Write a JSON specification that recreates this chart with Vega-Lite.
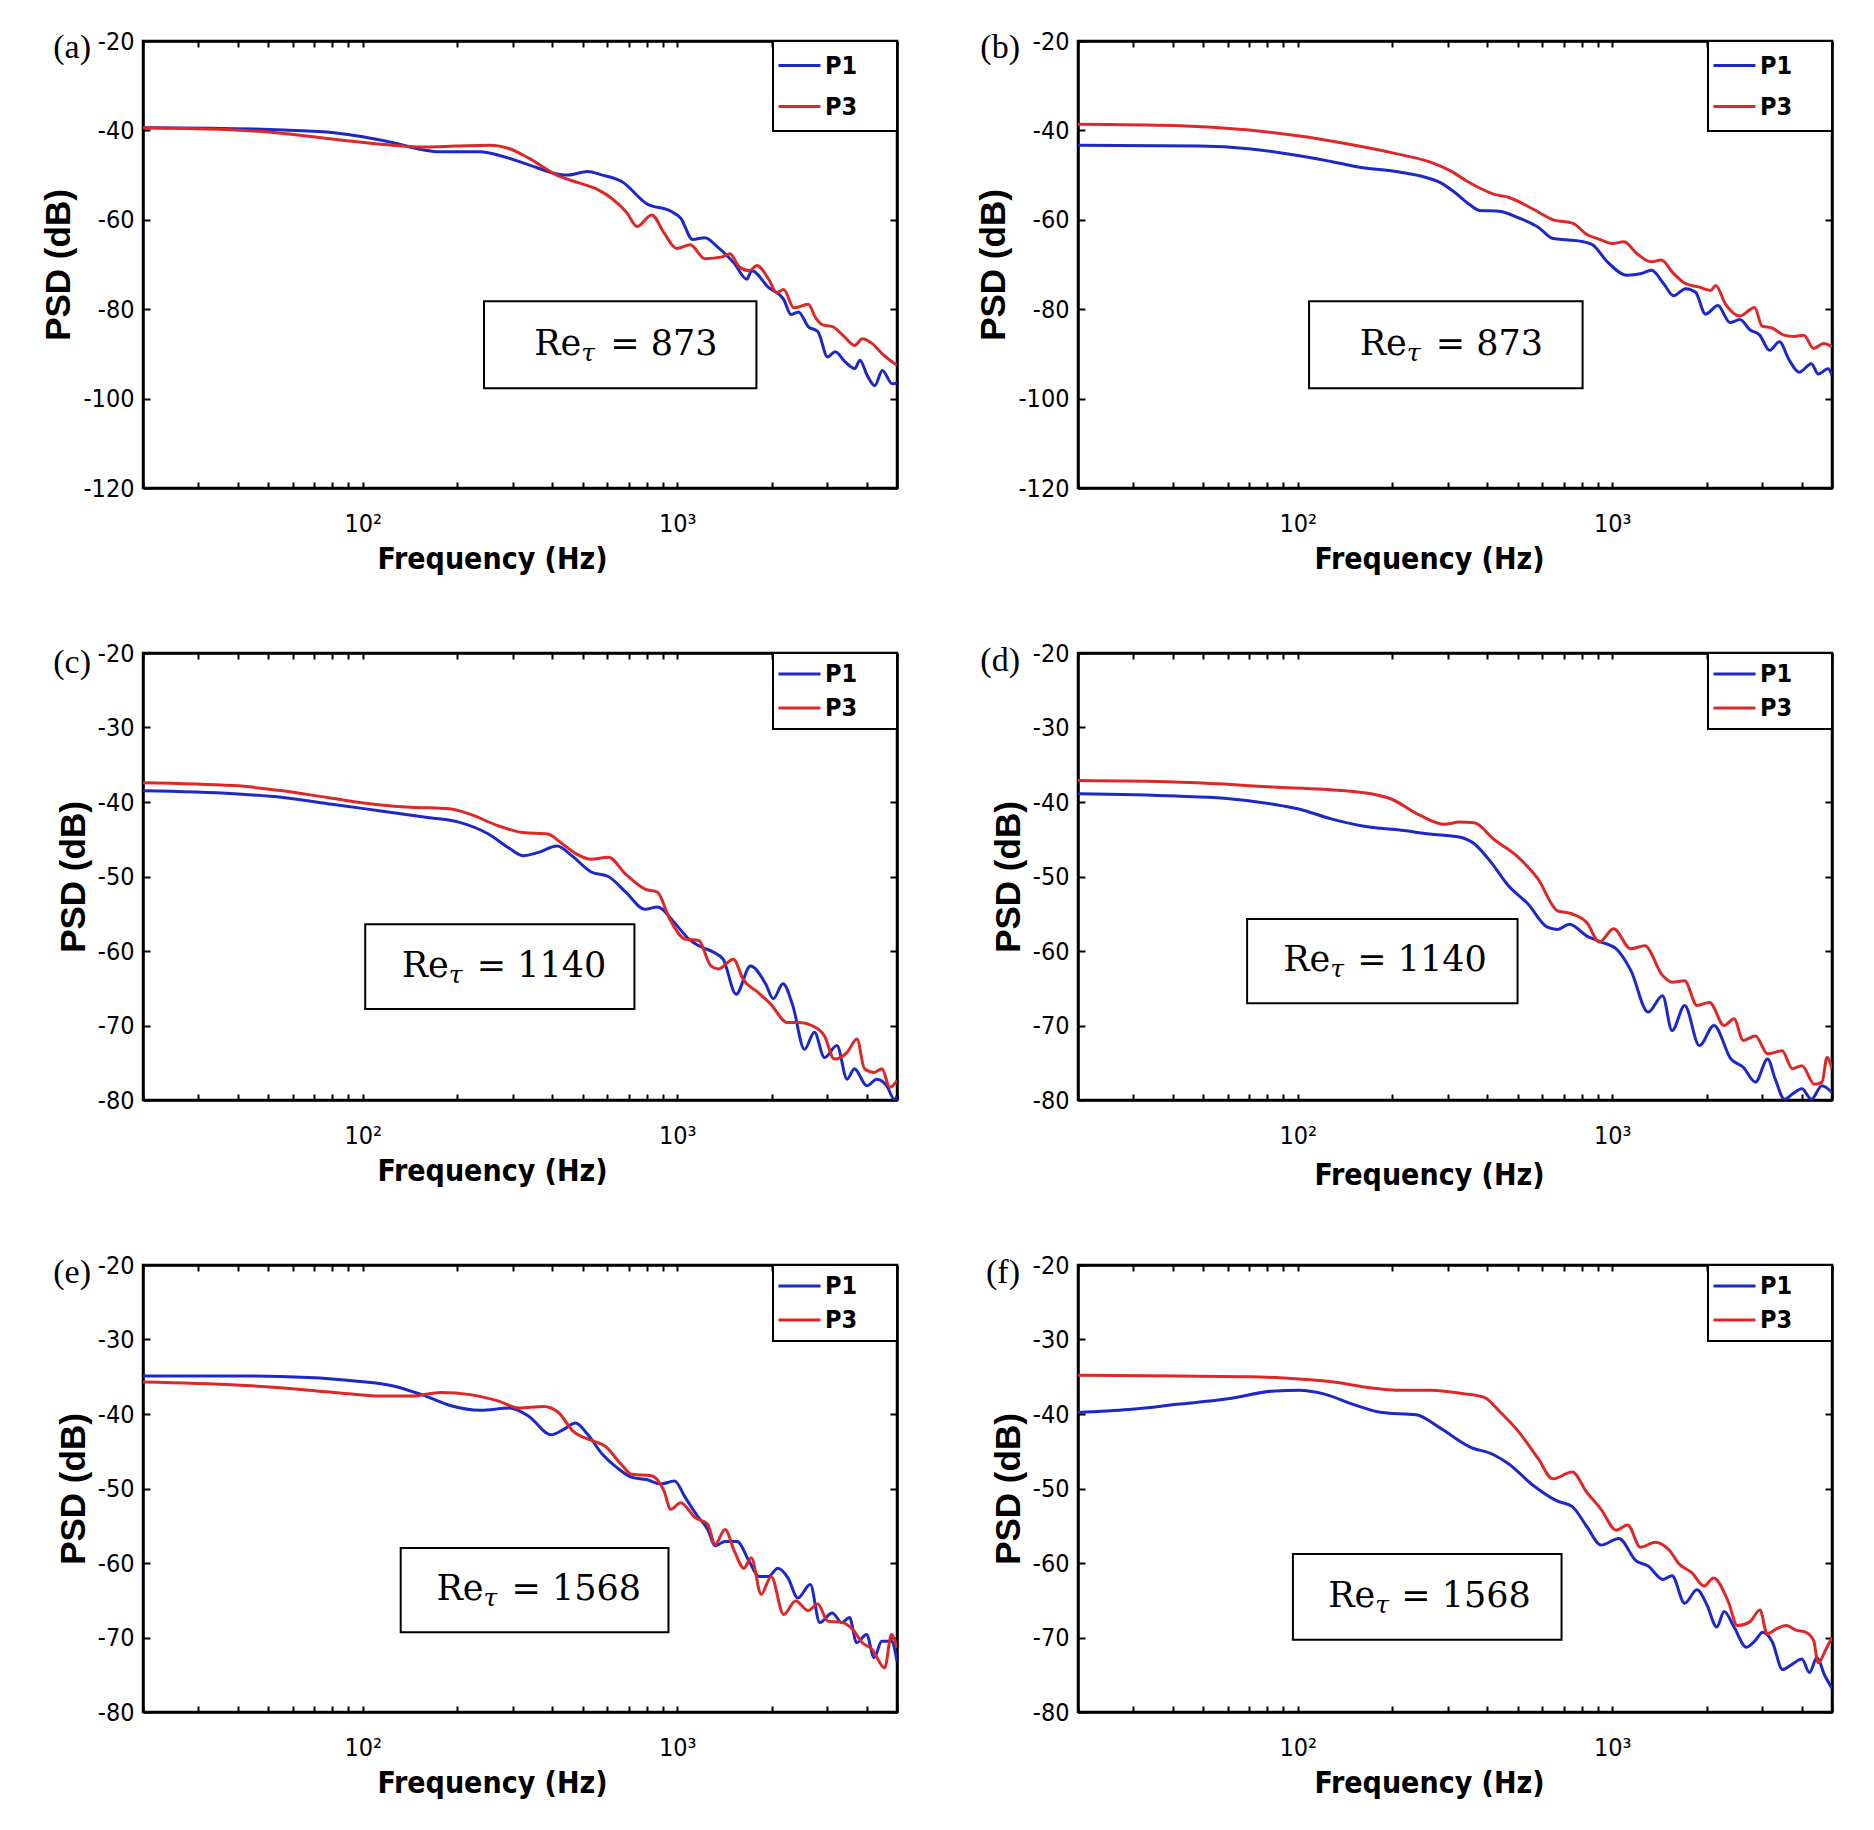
{
  "$schema": "https://vega.github.io/schema/vega-lite/v6.json",
  "padding": {"left": 40, "top": 27, "right": 10, "bottom": 5},
  "background": "white",
  "datasets": {
    "a": [
      {"f": 20, "psd": -39.4, "probe": "P1"}, {"f": 33, "psd": -39.5, "probe": "P1"}, {"f": 56, "psd": -39.9, "probe": "P1"}, {"f": 81, "psd": -40.5, "probe": "P1"},
      {"f": 100, "psd": -41.4, "probe": "P1"}, {"f": 124, "psd": -42.7, "probe": "P1"}, {"f": 154, "psd": -44.3, "probe": "P1"}, {"f": 177, "psd": -44.8, "probe": "P1"},
      {"f": 236, "psd": -44.8, "probe": "P1"}, {"f": 272, "psd": -45.6, "probe": "P1"}, {"f": 337, "psd": -47.7, "probe": "P1"}, {"f": 419, "psd": -49.8, "probe": "P1"},
      {"f": 450, "psd": -50, "probe": "P1"}, {"f": 518, "psd": -49.2, "probe": "P1"}, {"f": 578, "psd": -50, "probe": "P1"}, {"f": 668, "psd": -51.5, "probe": "P1"},
      {"f": 799, "psd": -56.4, "probe": "P1"}, {"f": 955, "psd": -58.1, "probe": "P1"}, {"f": 1025, "psd": -59.6, "probe": "P1"}, {"f": 1120, "psd": -64.4, "probe": "P1"},
      {"f": 1225, "psd": -64, "probe": "P1"}, {"f": 1340, "psd": -66, "probe": "P1"}, {"f": 1520, "psd": -69.8, "probe": "P1"}, {"f": 1665, "psd": -73.3, "probe": "P1"},
      {"f": 1725, "psd": -71.4, "probe": "P1"}, {"f": 1955, "psd": -75.2, "probe": "P1"}, {"f": 2180, "psd": -77.8, "probe": "P1"}, {"f": 2300, "psd": -81.2, "probe": "P1"},
      {"f": 2430, "psd": -80.6, "probe": "P1"}, {"f": 2610, "psd": -83.9, "probe": "P1"}, {"f": 2800, "psd": -85, "probe": "P1"}, {"f": 3010, "psd": -90.7, "probe": "P1"},
      {"f": 3180, "psd": -89.5, "probe": "P1"}, {"f": 3420, "psd": -91.8, "probe": "P1"}, {"f": 3670, "psd": -93.3, "probe": "P1"}, {"f": 3810, "psd": -91.4, "probe": "P1"},
      {"f": 4020, "psd": -94.8, "probe": "P1"}, {"f": 4250, "psd": -97.1, "probe": "P1"}, {"f": 4490, "psd": -93.7, "probe": "P1"}, {"f": 4830, "psd": -96.7, "probe": "P1"},
      {"f": 5000, "psd": -96.5, "probe": "P1"},
      {"f": 20, "psd": -39.4, "probe": "P3"}, {"f": 39, "psd": -39.9, "probe": "P3"}, {"f": 56, "psd": -40.7, "probe": "P3"}, {"f": 81, "psd": -42, "probe": "P3"},
      {"f": 124, "psd": -43.3, "probe": "P3"}, {"f": 154, "psd": -43.7, "probe": "P3"}, {"f": 197, "psd": -43.5, "probe": "P3"}, {"f": 254, "psd": -43.3, "probe": "P3"},
      {"f": 293, "psd": -44.1, "probe": "P3"}, {"f": 337, "psd": -46.2, "probe": "P3"}, {"f": 419, "psd": -50.2, "probe": "P3"}, {"f": 484, "psd": -51.7, "probe": "P3"},
      {"f": 557, "psd": -53.2, "probe": "P3"}, {"f": 621, "psd": -55.3, "probe": "P3"}, {"f": 693, "psd": -58.5, "probe": "P3"}, {"f": 745, "psd": -61.5, "probe": "P3"},
      {"f": 830, "psd": -58.9, "probe": "P3"}, {"f": 909, "psd": -63, "probe": "P3"}, {"f": 995, "psd": -66.4, "probe": "P3"}, {"f": 1100, "psd": -65.6, "probe": "P3"},
      {"f": 1225, "psd": -68.7, "probe": "P3"}, {"f": 1390, "psd": -68.3, "probe": "P3"}, {"f": 1470, "psd": -67.6, "probe": "P3"}, {"f": 1580, "psd": -70.6, "probe": "P3"},
      {"f": 1700, "psd": -71.4, "probe": "P3"}, {"f": 1790, "psd": -70.2, "probe": "P3"}, {"f": 1955, "psd": -73.3, "probe": "P3"}, {"f": 2070, "psd": -76.3, "probe": "P3"},
      {"f": 2180, "psd": -75.6, "probe": "P3"}, {"f": 2350, "psd": -79.7, "probe": "P3"}, {"f": 2610, "psd": -78.9, "probe": "P3"}, {"f": 2760, "psd": -82, "probe": "P3"},
      {"f": 2900, "psd": -83.5, "probe": "P3"}, {"f": 3120, "psd": -83.9, "probe": "P3"}, {"f": 3360, "psd": -85.8, "probe": "P3"}, {"f": 3670, "psd": -88.1, "probe": "P3"},
      {"f": 3880, "psd": -86.6, "probe": "P3"}, {"f": 4170, "psd": -87.7, "probe": "P3"}, {"f": 4490, "psd": -90, "probe": "P3"}, {"f": 4830, "psd": -91.8, "probe": "P3"},
      {"f": 5000, "psd": -92.5, "probe": "P3"}
    ],
    "b": [
      {"f": 20, "psd": -43.3, "probe": "P1"}, {"f": 48.7, "psd": -43.5, "probe": "P1"}, {"f": 69.8, "psd": -44.1, "probe": "P1"}, {"f": 100, "psd": -45.6, "probe": "P1"},
      {"f": 128.6, "psd": -47, "probe": "P1"}, {"f": 159.6, "psd": -48.3, "probe": "P1"}, {"f": 205, "psd": -49.2, "probe": "P1"}, {"f": 245.6, "psd": -50.2, "probe": "P1"},
      {"f": 284, "psd": -51.7, "probe": "P1"}, {"f": 316, "psd": -53.9, "probe": "P1"}, {"f": 352, "psd": -56.6, "probe": "P1"}, {"f": 378, "psd": -57.9, "probe": "P1"},
      {"f": 437, "psd": -58.1, "probe": "P1"}, {"f": 505, "psd": -59.6, "probe": "P1"}, {"f": 583, "psd": -61.7, "probe": "P1"}, {"f": 649, "psd": -64.2, "probe": "P1"},
      {"f": 724, "psd": -64.5, "probe": "P1"}, {"f": 808, "psd": -64.9, "probe": "P1"}, {"f": 866, "psd": -65.6, "probe": "P1"}, {"f": 965, "psd": -69.4, "probe": "P1"},
      {"f": 1111, "psd": -72.4, "probe": "P1"}, {"f": 1241, "psd": -72, "probe": "P1"}, {"f": 1333, "psd": -71.3, "probe": "P1"}, {"f": 1458, "psd": -74.3, "probe": "P1"},
      {"f": 1566, "psd": -77, "probe": "P1"}, {"f": 1713, "psd": -75.4, "probe": "P1"}, {"f": 1841, "psd": -76.2, "probe": "P1"}, {"f": 1980, "psd": -81.1, "probe": "P1"},
      {"f": 2167, "psd": -79.2, "probe": "P1"}, {"f": 2371, "psd": -83, "probe": "P1"}, {"f": 2549, "psd": -82.3, "probe": "P1"}, {"f": 2740, "psd": -84.6, "probe": "P1"},
      {"f": 2945, "psd": -85.8, "probe": "P1"}, {"f": 3165, "psd": -89.2, "probe": "P1"}, {"f": 3402, "psd": -87.3, "probe": "P1"}, {"f": 3657, "psd": -91.4, "probe": "P1"},
      {"f": 3931, "psd": -94.1, "probe": "P1"}, {"f": 4300, "psd": -92.2, "probe": "P1"}, {"f": 4520, "psd": -94.5, "probe": "P1"}, {"f": 4860, "psd": -93.3, "probe": "P1"},
      {"f": 5000, "psd": -94.8, "probe": "P1"},
      {"f": 20, "psd": -38.6, "probe": "P3"}, {"f": 40.7, "psd": -38.9, "probe": "P3"}, {"f": 69.8, "psd": -39.9, "probe": "P3"}, {"f": 100, "psd": -41.2, "probe": "P3"},
      {"f": 143, "psd": -43, "probe": "P3"}, {"f": 205, "psd": -45.2, "probe": "P3"}, {"f": 264, "psd": -47.1, "probe": "P3"}, {"f": 305, "psd": -49, "probe": "P3"},
      {"f": 352, "psd": -51.7, "probe": "P3"}, {"f": 422, "psd": -54.3, "probe": "P3"}, {"f": 470, "psd": -55, "probe": "P3"}, {"f": 563, "psd": -57.7, "probe": "P3"},
      {"f": 649, "psd": -60, "probe": "P3"}, {"f": 750, "psd": -60.8, "probe": "P3"}, {"f": 836, "psd": -63.4, "probe": "P3"}, {"f": 898, "psd": -64.2, "probe": "P3"},
      {"f": 1000, "psd": -65.3, "probe": "P3"}, {"f": 1090, "psd": -64.9, "probe": "P3"}, {"f": 1200, "psd": -67.6, "probe": "P3"}, {"f": 1333, "psd": -69.4, "probe": "P3"},
      {"f": 1432, "psd": -69, "probe": "P3"}, {"f": 1566, "psd": -72, "probe": "P3"}, {"f": 1713, "psd": -74.3, "probe": "P3"}, {"f": 1882, "psd": -75, "probe": "P3"},
      {"f": 2058, "psd": -75.8, "probe": "P3"}, {"f": 2135, "psd": -74.7, "probe": "P3"}, {"f": 2290, "psd": -78.8, "probe": "P3"}, {"f": 2549, "psd": -81.5, "probe": "P3"},
      {"f": 2837, "psd": -79.6, "probe": "P3"}, {"f": 2997, "psd": -83.8, "probe": "P3"}, {"f": 3222, "psd": -84.2, "probe": "P3"}, {"f": 3520, "psd": -85.8, "probe": "P3"},
      {"f": 3785, "psd": -86.1, "probe": "P3"}, {"f": 4070, "psd": -85.8, "probe": "P3"}, {"f": 4370, "psd": -88.8, "probe": "P3"}, {"f": 4700, "psd": -87.7, "probe": "P3"},
      {"f": 5000, "psd": -88.4, "probe": "P3"}
    ],
    "c": [
      {"f": 20, "psd": -38.5, "probe": "P1"}, {"f": 38.9, "psd": -38.9, "probe": "P1"}, {"f": 55.7, "psd": -39.4, "probe": "P1"}, {"f": 79.8, "psd": -40.3, "probe": "P1"},
      {"f": 114, "psd": -41.2, "probe": "P1"}, {"f": 163, "psd": -42.1, "probe": "P1"}, {"f": 202, "psd": -42.7, "probe": "P1"}, {"f": 251, "psd": -44.3, "probe": "P1"},
      {"f": 290, "psd": -46.1, "probe": "P1"}, {"f": 323, "psd": -47.2, "probe": "P1"}, {"f": 360, "psd": -46.8, "probe": "P1"}, {"f": 415, "psd": -45.9, "probe": "P1"},
      {"f": 462, "psd": -47.2, "probe": "P1"}, {"f": 533, "psd": -49.4, "probe": "P1"}, {"f": 604, "psd": -50, "probe": "P1"}, {"f": 686, "psd": -52.1, "probe": "P1"},
      {"f": 790, "psd": -54.4, "probe": "P1"}, {"f": 865, "psd": -54.1, "probe": "P1"}, {"f": 980, "psd": -56.2, "probe": "P1"}, {"f": 1090, "psd": -58.4, "probe": "P1"},
      {"f": 1170, "psd": -59.3, "probe": "P1"}, {"f": 1310, "psd": -60.2, "probe": "P1"}, {"f": 1400, "psd": -61.1, "probe": "P1"}, {"f": 1540, "psd": -65.8, "probe": "P1"},
      {"f": 1710, "psd": -62, "probe": "P1"}, {"f": 1910, "psd": -64.4, "probe": "P1"}, {"f": 2020, "psd": -66.4, "probe": "P1"}, {"f": 2170, "psd": -64.4, "probe": "P1"},
      {"f": 2330, "psd": -67.3, "probe": "P1"}, {"f": 2540, "psd": -73.2, "probe": "P1"}, {"f": 2730, "psd": -70.9, "probe": "P1"}, {"f": 2940, "psd": -74.3, "probe": "P1"},
      {"f": 3220, "psd": -72.7, "probe": "P1"}, {"f": 3470, "psd": -77.2, "probe": "P1"}, {"f": 3660, "psd": -75.8, "probe": "P1"}, {"f": 4010, "psd": -78.1, "probe": "P1"},
      {"f": 4310, "psd": -77.2, "probe": "P1"}, {"f": 4640, "psd": -78.1, "probe": "P1"}, {"f": 4900, "psd": -79.9, "probe": "P1"}, {"f": 5000, "psd": -79.5, "probe": "P1"},
      {"f": 20, "psd": -37.4, "probe": "P3"}, {"f": 38.9, "psd": -37.8, "probe": "P3"}, {"f": 55.7, "psd": -38.5, "probe": "P3"}, {"f": 79.8, "psd": -39.5, "probe": "P3"},
      {"f": 114, "psd": -40.4, "probe": "P3"}, {"f": 142, "psd": -40.7, "probe": "P3"}, {"f": 189, "psd": -40.9, "probe": "P3"}, {"f": 218, "psd": -41.6, "probe": "P3"},
      {"f": 270, "psd": -43.2, "probe": "P3"}, {"f": 323, "psd": -44.1, "probe": "P3"}, {"f": 387, "psd": -44.3, "probe": "P3"}, {"f": 431, "psd": -45.6, "probe": "P3"},
      {"f": 479, "psd": -47, "probe": "P3"}, {"f": 533, "psd": -47.7, "probe": "P3"}, {"f": 604, "psd": -47.4, "probe": "P3"}, {"f": 686, "psd": -49.7, "probe": "P3"},
      {"f": 790, "psd": -51.7, "probe": "P3"}, {"f": 865, "psd": -52.1, "probe": "P3"}, {"f": 946, "psd": -55.7, "probe": "P3"}, {"f": 1060, "psd": -58.4, "probe": "P3"},
      {"f": 1170, "psd": -58.6, "probe": "P3"}, {"f": 1280, "psd": -62, "probe": "P3"}, {"f": 1350, "psd": -62.4, "probe": "P3"}, {"f": 1510, "psd": -61.1, "probe": "P3"},
      {"f": 1620, "psd": -63.8, "probe": "P3"}, {"f": 1800, "psd": -65.5, "probe": "P3"}, {"f": 1980, "psd": -67.1, "probe": "P3"}, {"f": 2240, "psd": -69.6, "probe": "P3"},
      {"f": 2450, "psd": -69.6, "probe": "P3"}, {"f": 2680, "psd": -70, "probe": "P3"}, {"f": 2940, "psd": -71.4, "probe": "P3"}, {"f": 3160, "psd": -74.5, "probe": "P3"},
      {"f": 3470, "psd": -73.6, "probe": "P3"}, {"f": 3730, "psd": -71.8, "probe": "P3"}, {"f": 3940, "psd": -75.8, "probe": "P3"}, {"f": 4240, "psd": -76.3, "probe": "P3"},
      {"f": 4480, "psd": -75.8, "probe": "P3"}, {"f": 4740, "psd": -78.3, "probe": "P3"}, {"f": 5000, "psd": -77.4, "probe": "P3"}
    ],
    "d": [
      {"f": 20, "psd": -38.9, "probe": "P1"}, {"f": 40.8, "psd": -39.2, "probe": "P1"}, {"f": 58.4, "psd": -39.5, "probe": "P1"}, {"f": 83.6, "psd": -40.3, "probe": "P1"},
      {"f": 100, "psd": -40.9, "probe": "P1"}, {"f": 128.5, "psd": -42.3, "probe": "P1"}, {"f": 171, "psd": -43.4, "probe": "P1"}, {"f": 205, "psd": -43.7, "probe": "P1"},
      {"f": 263, "psd": -44.3, "probe": "P1"}, {"f": 326, "psd": -44.7, "probe": "P1"}, {"f": 364, "psd": -45.6, "probe": "P1"}, {"f": 405, "psd": -47.7, "probe": "P1"},
      {"f": 467, "psd": -51.2, "probe": "P1"}, {"f": 540, "psd": -53.7, "probe": "P1"}, {"f": 622, "psd": -56.8, "probe": "P1"}, {"f": 670, "psd": -57.1, "probe": "P1"},
      {"f": 731, "psd": -56.4, "probe": "P1"}, {"f": 831, "psd": -58, "probe": "P1"}, {"f": 923, "psd": -58.8, "probe": "P1"}, {"f": 1030, "psd": -59.7, "probe": "P1"},
      {"f": 1146, "psd": -62.6, "probe": "P1"}, {"f": 1300, "psd": -68.2, "probe": "P1"}, {"f": 1446, "psd": -66, "probe": "P1"}, {"f": 1550, "psd": -70.7, "probe": "P1"},
      {"f": 1700, "psd": -67.3, "probe": "P1"}, {"f": 1893, "psd": -72.7, "probe": "P1"}, {"f": 2106, "psd": -70, "probe": "P1"}, {"f": 2386, "psd": -74.5, "probe": "P1"},
      {"f": 2610, "psd": -75.6, "probe": "P1"}, {"f": 2855, "psd": -77.6, "probe": "P1"}, {"f": 3120, "psd": -74.5, "probe": "P1"}, {"f": 3300, "psd": -77.2, "probe": "P1"},
      {"f": 3530, "psd": -79.9, "probe": "P1"}, {"f": 3740, "psd": -79.2, "probe": "P1"}, {"f": 4010, "psd": -78.5, "probe": "P1"}, {"f": 4300, "psd": -79.9, "probe": "P1"},
      {"f": 4640, "psd": -78.1, "probe": "P1"}, {"f": 5000, "psd": -79, "probe": "P1"},
      {"f": 20, "psd": -37.1, "probe": "P3"}, {"f": 40.8, "psd": -37.3, "probe": "P3"}, {"f": 58.4, "psd": -37.6, "probe": "P3"}, {"f": 83.6, "psd": -38, "probe": "P3"},
      {"f": 120, "psd": -38.3, "probe": "P3"}, {"f": 171, "psd": -38.9, "probe": "P3"}, {"f": 198, "psd": -39.6, "probe": "P3"}, {"f": 245, "psd": -41.8, "probe": "P3"},
      {"f": 293, "psd": -43, "probe": "P3"}, {"f": 326, "psd": -42.7, "probe": "P3"}, {"f": 364, "psd": -42.8, "probe": "P3"}, {"f": 420, "psd": -45, "probe": "P3"},
      {"f": 502, "psd": -47.4, "probe": "P3"}, {"f": 580, "psd": -50.3, "probe": "P3"}, {"f": 670, "psd": -54.6, "probe": "P3"}, {"f": 742, "psd": -55, "probe": "P3"},
      {"f": 831, "psd": -56.2, "probe": "P3"}, {"f": 910, "psd": -58.8, "probe": "P3"}, {"f": 1010, "psd": -57, "probe": "P3"}, {"f": 1146, "psd": -59.7, "probe": "P3"},
      {"f": 1270, "psd": -59.3, "probe": "P3"}, {"f": 1446, "psd": -63.3, "probe": "P3"}, {"f": 1550, "psd": -64.2, "probe": "P3"}, {"f": 1700, "psd": -64, "probe": "P3"},
      {"f": 1860, "psd": -67.3, "probe": "P3"}, {"f": 2040, "psd": -66.9, "probe": "P3"}, {"f": 2270, "psd": -70, "probe": "P3"}, {"f": 2440, "psd": -69.1, "probe": "P3"},
      {"f": 2610, "psd": -72, "probe": "P3"}, {"f": 2855, "psd": -71.4, "probe": "P3"}, {"f": 3120, "psd": -73.8, "probe": "P3"}, {"f": 3470, "psd": -73.4, "probe": "P3"},
      {"f": 3740, "psd": -75.8, "probe": "P3"}, {"f": 4010, "psd": -75.4, "probe": "P3"}, {"f": 4400, "psd": -77.9, "probe": "P3"}, {"f": 4650, "psd": -77.6, "probe": "P3"},
      {"f": 4820, "psd": -74.3, "probe": "P3"}, {"f": 5000, "psd": -75.8, "probe": "P3"}
    ],
    "e": [
      {"f": 20, "psd": -34.9, "probe": "P1"}, {"f": 39.4, "psd": -34.9, "probe": "P1"}, {"f": 67, "psd": -35.1, "probe": "P1"}, {"f": 96, "psd": -35.6, "probe": "P1"},
      {"f": 124, "psd": -36.2, "probe": "P1"}, {"f": 154, "psd": -37.4, "probe": "P1"}, {"f": 191, "psd": -38.9, "probe": "P1"}, {"f": 236, "psd": -39.5, "probe": "P1"},
      {"f": 293, "psd": -39.2, "probe": "P1"}, {"f": 337, "psd": -40.3, "probe": "P1"}, {"f": 397, "psd": -42.8, "probe": "P1"}, {"f": 434, "psd": -42.1, "probe": "P1"},
      {"f": 475, "psd": -41.2, "probe": "P1"}, {"f": 518, "psd": -42.7, "probe": "P1"}, {"f": 578, "psd": -45.4, "probe": "P1"}, {"f": 643, "psd": -47.2, "probe": "P1"},
      {"f": 717, "psd": -48.5, "probe": "P1"}, {"f": 799, "psd": -48.8, "probe": "P1"}, {"f": 887, "psd": -49.4, "probe": "P1"}, {"f": 981, "psd": -49, "probe": "P1"},
      {"f": 1060, "psd": -51.2, "probe": "P1"}, {"f": 1160, "psd": -53.7, "probe": "P1"}, {"f": 1250, "psd": -55.5, "probe": "P1"}, {"f": 1320, "psd": -57.7, "probe": "P1"},
      {"f": 1420, "psd": -57.1, "probe": "P1"}, {"f": 1550, "psd": -57.1, "probe": "P1"}, {"f": 1690, "psd": -59.7, "probe": "P1"}, {"f": 1820, "psd": -61.8, "probe": "P1"},
      {"f": 1950, "psd": -61.8, "probe": "P1"}, {"f": 2090, "psd": -60.7, "probe": "P1"}, {"f": 2250, "psd": -62, "probe": "P1"}, {"f": 2420, "psd": -64.7, "probe": "P1"},
      {"f": 2650, "psd": -62.9, "probe": "P1"}, {"f": 2840, "psd": -68, "probe": "P1"}, {"f": 3110, "psd": -66.7, "probe": "P1"}, {"f": 3340, "psd": -68, "probe": "P1"},
      {"f": 3530, "psd": -67.3, "probe": "P1"}, {"f": 3720, "psd": -70.7, "probe": "P1"}, {"f": 4000, "psd": -69.6, "probe": "P1"}, {"f": 4230, "psd": -72.7, "probe": "P1"},
      {"f": 4470, "psd": -70.5, "probe": "P1"}, {"f": 4800, "psd": -70.5, "probe": "P1"}, {"f": 5000, "psd": -73.2, "probe": "P1"},
      {"f": 20, "psd": -35.7, "probe": "P3"}, {"f": 39.4, "psd": -36.1, "probe": "P3"}, {"f": 56, "psd": -36.5, "probe": "P3"}, {"f": 81, "psd": -37.1, "probe": "P3"},
      {"f": 115, "psd": -37.6, "probe": "P3"}, {"f": 143, "psd": -37.6, "probe": "P3"}, {"f": 177, "psd": -37.1, "probe": "P3"}, {"f": 220, "psd": -37.4, "probe": "P3"},
      {"f": 272, "psd": -38.3, "probe": "P3"}, {"f": 314, "psd": -39.2, "probe": "P3"}, {"f": 376, "psd": -39, "probe": "P3"}, {"f": 419, "psd": -39.8, "probe": "P3"},
      {"f": 466, "psd": -42.3, "probe": "P3"}, {"f": 539, "psd": -43.6, "probe": "P3"}, {"f": 589, "psd": -44.3, "probe": "P3"}, {"f": 665, "psd": -46.8, "probe": "P3"},
      {"f": 717, "psd": -48.1, "probe": "P3"}, {"f": 828, "psd": -48.3, "probe": "P3"}, {"f": 907, "psd": -50.3, "probe": "P3"}, {"f": 954, "psd": -52.8, "probe": "P3"},
      {"f": 1025, "psd": -51.9, "probe": "P3"}, {"f": 1140, "psd": -53.9, "probe": "P3"}, {"f": 1250, "psd": -54.8, "probe": "P3"}, {"f": 1320, "psd": -57.5, "probe": "P3"},
      {"f": 1420, "psd": -55.5, "probe": "P3"}, {"f": 1520, "psd": -58.4, "probe": "P3"}, {"f": 1630, "psd": -60.7, "probe": "P3"}, {"f": 1720, "psd": -59.3, "probe": "P3"},
      {"f": 1850, "psd": -64.2, "probe": "P3"}, {"f": 1990, "psd": -61.8, "probe": "P3"}, {"f": 2180, "psd": -66.9, "probe": "P3"}, {"f": 2380, "psd": -65.1, "probe": "P3"},
      {"f": 2610, "psd": -66.4, "probe": "P3"}, {"f": 2800, "psd": -65.5, "probe": "P3"}, {"f": 3010, "psd": -67.8, "probe": "P3"}, {"f": 3360, "psd": -68, "probe": "P3"},
      {"f": 3610, "psd": -68.9, "probe": "P3"}, {"f": 3880, "psd": -70.7, "probe": "P3"}, {"f": 4170, "psd": -71.6, "probe": "P3"}, {"f": 4570, "psd": -74.1, "probe": "P3"},
      {"f": 4800, "psd": -69.6, "probe": "P3"}, {"f": 5000, "psd": -71.4, "probe": "P3"}
    ],
    "f": [
      {"f": 20, "psd": -39.8, "probe": "P1"}, {"f": 29, "psd": -39.4, "probe": "P1"}, {"f": 41.4, "psd": -38.7, "probe": "P1"}, {"f": 59.2, "psd": -38, "probe": "P1"},
      {"f": 84.5, "psd": -36.9, "probe": "P1"}, {"f": 101, "psd": -36.8, "probe": "P1"}, {"f": 121, "psd": -37.3, "probe": "P1"}, {"f": 150, "psd": -38.7, "probe": "P1"},
      {"f": 185, "psd": -39.8, "probe": "P1"}, {"f": 238, "psd": -40.1, "probe": "P1"}, {"f": 284, "psd": -41.9, "probe": "P1"}, {"f": 352, "psd": -44.4, "probe": "P1"},
      {"f": 421, "psd": -45.5, "probe": "P1"}, {"f": 469, "psd": -46.7, "probe": "P1"}, {"f": 561, "psd": -49.6, "probe": "P1"}, {"f": 670, "psd": -51.7, "probe": "P1"},
      {"f": 745, "psd": -52.4, "probe": "P1"}, {"f": 830, "psd": -55.1, "probe": "P1"}, {"f": 922, "psd": -57.6, "probe": "P1"}, {"f": 1050, "psd": -56.7, "probe": "P1"},
      {"f": 1190, "psd": -59.7, "probe": "P1"}, {"f": 1300, "psd": -60.4, "probe": "P1"}, {"f": 1450, "psd": -62.2, "probe": "P1"}, {"f": 1550, "psd": -61.7, "probe": "P1"},
      {"f": 1700, "psd": -65.4, "probe": "P1"}, {"f": 1860, "psd": -63.6, "probe": "P1"}, {"f": 2000, "psd": -65.6, "probe": "P1"}, {"f": 2150, "psd": -68.6, "probe": "P1"},
      {"f": 2270, "psd": -66.5, "probe": "P1"}, {"f": 2440, "psd": -68.6, "probe": "P1"}, {"f": 2670, "psd": -71.3, "probe": "P1"}, {"f": 2850, "psd": -70.4, "probe": "P1"},
      {"f": 3010, "psd": -69.3, "probe": "P1"}, {"f": 3230, "psd": -70.6, "probe": "P1"}, {"f": 3480, "psd": -74.3, "probe": "P1"}, {"f": 3730, "psd": -73.6, "probe": "P1"},
      {"f": 4010, "psd": -72.9, "probe": "P1"}, {"f": 4240, "psd": -74.7, "probe": "P1"}, {"f": 4480, "psd": -72.7, "probe": "P1"}, {"f": 4730, "psd": -75, "probe": "P1"},
      {"f": 5000, "psd": -76.8, "probe": "P1"},
      {"f": 20, "psd": -34.8, "probe": "P3"}, {"f": 41.4, "psd": -34.9, "probe": "P3"}, {"f": 71, "psd": -35, "probe": "P3"}, {"f": 101, "psd": -35.3, "probe": "P3"},
      {"f": 130, "psd": -35.7, "probe": "P3"}, {"f": 172, "psd": -36.5, "probe": "P3"}, {"f": 206, "psd": -36.8, "probe": "P3"}, {"f": 264, "psd": -36.8, "probe": "P3"},
      {"f": 340, "psd": -37.3, "probe": "P3"}, {"f": 393, "psd": -37.8, "probe": "P3"}, {"f": 437, "psd": -39.6, "probe": "P3"}, {"f": 502, "psd": -42.3, "probe": "P3"},
      {"f": 582, "psd": -46, "probe": "P3"}, {"f": 647, "psd": -48.7, "probe": "P3"}, {"f": 746, "psd": -47.8, "probe": "P3"}, {"f": 830, "psd": -50.5, "probe": "P3"},
      {"f": 922, "psd": -52.8, "probe": "P3"}, {"f": 1030, "psd": -55.6, "probe": "P3"}, {"f": 1120, "psd": -54.9, "probe": "P3"}, {"f": 1230, "psd": -57.9, "probe": "P3"},
      {"f": 1370, "psd": -57.2, "probe": "P3"}, {"f": 1520, "psd": -58.3, "probe": "P3"}, {"f": 1630, "psd": -60.1, "probe": "P3"}, {"f": 1790, "psd": -61.3, "probe": "P3"},
      {"f": 1960, "psd": -63.1, "probe": "P3"}, {"f": 2100, "psd": -62, "probe": "P3"}, {"f": 2340, "psd": -65.2, "probe": "P3"}, {"f": 2500, "psd": -68.4, "probe": "P3"},
      {"f": 2740, "psd": -67.9, "probe": "P3"}, {"f": 2950, "psd": -66.3, "probe": "P3"}, {"f": 3110, "psd": -69.5, "probe": "P3"}, {"f": 3340, "psd": -68.8, "probe": "P3"},
      {"f": 3580, "psd": -68.4, "probe": "P3"}, {"f": 3840, "psd": -69, "probe": "P3"}, {"f": 4130, "psd": -69.3, "probe": "P3"}, {"f": 4370, "psd": -70.4, "probe": "P3"},
      {"f": 4520, "psd": -73.4, "probe": "P3"}, {"f": 4780, "psd": -71.6, "probe": "P3"}, {"f": 5000, "psd": -70, "probe": "P3"}
    ]
  },
  "bounds": "flush",
  "columns": 2,
  "spacing": {"row": 165, "column": 181},
  "concat": [
    {
      "width": 754, "height": 447,
      "layer": [
        {
          "data": {"name": "a"},
          "mark": {"type": "line", "strokeWidth": 3, "interpolate": "monotone", "clip": true},
          "encoding": {
            "x": {"field": "f", "type": "quantitative", "title": "Frequency (Hz)", "scale": {"type": "log", "domain": [20, 5000], "nice": false},
              "axis": {"orient": "bottom", "values": [20, 30, 40, 50, 60, 70, 80, 90, 100, 200, 300, 400, 500, 600, 700, 800, 900, 1000, 2000, 3000, 4000, 5000], "labelExpr": "datum.value == 100 ? '10²' : datum.value == 1000 ? '10³' : ''", "tickSize": -6, "labelPadding": 29, "titlePadding": 8, "titleX": 349}},
            "y": {"field": "psd", "type": "quantitative", "title": "PSD (dB)", "scale": {"domain": [-120, -20], "nice": false},
              "axis": {"orient": "left", "values": [-120, -100, -80, -60, -40, -20], "labelExpr": "'' + datum.value", "tickSize": -7, "labelPadding": 16, "titlePadding": 6}},
            "color": {"field": "probe", "type": "nominal", "scale": {"domain": ["P1", "P3"], "range": ["#1c28c8", "#de2828"]},
              "legend": {"title": null, "orient": "top-right", "offset": 0, "fillColor": "white", "strokeColor": "black", "padding": 4, "symbolType": "stroke", "symbolSize": 1764, "symbolStrokeWidth": 3, "clipHeight": 41, "rowPadding": 0, "labelOffset": 3, "labelFont": "DejaVu Sans Condensed, Liberation Sans", "labelFontSize": 25, "labelFontWeight": "bold", "labelColor": "black", "labelExpr": "datum.label + '\u2800\u2800'"}}
          }
        },
        {
          "data": {"name": "a"},
          "mark": {"type": "line", "opacity": 0},
          "encoding": {
            "x": {"field": "f", "type": "quantitative", "scale": {"type": "log", "domain": [20, 5000], "nice": false},
              "axis": {"orient": "top", "values": [20, 30, 40, 50, 60, 70, 80, 90, 100, 200, 300, 400, 500, 600, 700, 800, 900, 1000, 2000, 3000, 4000, 5000], "labels": false, "tickSize": -6, "title": null}},
            "y": {"field": "psd", "type": "quantitative", "scale": {"domain": [-120, -20], "nice": false},
              "axis": {"orient": "right", "values": [-120, -100, -80, -60, -40, -20], "labels": false, "tickSize": -7, "title": null}}
          }
        },
        {
          "data": {"values": [{}]},
          "mark": {"type": "rect", "fill": "white", "stroke": "black", "strokeWidth": 2},
          "encoding": {"x": {"datum": 243, "axis": null}, "x2": {"datum": 1786}, "y": {"datum": -78.2, "axis": null}, "y2": {"datum": -97.7}}
        },
        {
          "data": {"values": [{}]},
          "mark": {"type": "text", "text": "Re", "font": "DejaVu Serif", "fontSize": 35, "align": "right", "baseline": "alphabetic", "dx": -39, "dy": 10},
          "encoding": {"x": {"datum": 658.8, "axis": null}, "y": {"datum": -87.95, "axis": null}}
        },
        {
          "data": {"values": [{}]},
          "mark": {"type": "text", "text": "τ", "font": "DejaVu Serif", "fontStyle": "italic", "fontSize": 25, "align": "left", "baseline": "alphabetic", "dx": -39, "dy": 16},
          "encoding": {"x": {"datum": 658.8, "axis": null}, "y": {"datum": -87.95, "axis": null}}
        },
        {
          "data": {"values": [{}]},
          "mark": {"type": "text", "text": "= 873", "font": "DejaVu Serif", "fontSize": 35, "align": "left", "baseline": "alphabetic", "dx": -10, "dy": 10},
          "encoding": {"x": {"datum": 658.8, "axis": null}, "y": {"datum": -87.95, "axis": null}}
        },
        {
          "data": {"values": [{}]},
          "mark": {"type": "text", "text": "(a)", "font": "Liberation Serif", "fontSize": 34, "align": "right", "baseline": "middle", "dx": -52, "dy": 7},
          "encoding": {"x": {"datum": 20, "axis": null}, "y": {"datum": -20, "axis": null}}
        }
      ],
      "resolve": {"axis": {"x": "independent", "y": "independent"}}
    },
    {
      "width": 754, "height": 447,
      "layer": [
        {
          "data": {"name": "b"},
          "mark": {"type": "line", "strokeWidth": 3, "interpolate": "monotone", "clip": true},
          "encoding": {
            "x": {"field": "f", "type": "quantitative", "title": "Frequency (Hz)", "scale": {"type": "log", "domain": [20, 5000], "nice": false},
              "axis": {"orient": "bottom", "values": [20, 30, 40, 50, 60, 70, 80, 90, 100, 200, 300, 400, 500, 600, 700, 800, 900, 1000, 2000, 3000, 4000, 5000], "labelExpr": "datum.value == 100 ? '10²' : datum.value == 1000 ? '10³' : ''", "tickSize": -6, "labelPadding": 29, "titlePadding": 8, "titleX": 351}},
            "y": {"field": "psd", "type": "quantitative", "title": "PSD (dB)", "scale": {"domain": [-120, -20], "nice": false},
              "axis": {"orient": "left", "values": [-120, -100, -80, -60, -40, -20], "labelExpr": "'' + datum.value", "tickSize": -7, "labelPadding": 16, "titlePadding": 6}},
            "color": {"field": "probe", "type": "nominal", "scale": {"domain": ["P1", "P3"], "range": ["#1c28c8", "#de2828"]},
              "legend": {"title": null, "orient": "top-right", "offset": 0, "fillColor": "white", "strokeColor": "black", "padding": 4, "symbolType": "stroke", "symbolSize": 1764, "symbolStrokeWidth": 3, "clipHeight": 41, "rowPadding": 0, "labelOffset": 3, "labelFont": "DejaVu Sans Condensed, Liberation Sans", "labelFontSize": 25, "labelFontWeight": "bold", "labelColor": "black", "labelExpr": "datum.label + '\u2800\u2800'"}}
          }
        },
        {
          "data": {"name": "b"},
          "mark": {"type": "line", "opacity": 0},
          "encoding": {
            "x": {"field": "f", "type": "quantitative", "scale": {"type": "log", "domain": [20, 5000], "nice": false},
              "axis": {"orient": "top", "values": [20, 30, 40, 50, 60, 70, 80, 90, 100, 200, 300, 400, 500, 600, 700, 800, 900, 1000, 2000, 3000, 4000, 5000], "labels": false, "tickSize": -6, "title": null}},
            "y": {"field": "psd", "type": "quantitative", "scale": {"domain": [-120, -20], "nice": false},
              "axis": {"orient": "right", "values": [-120, -100, -80, -60, -40, -20], "labels": false, "tickSize": -7, "title": null}}
          }
        },
        {
          "data": {"values": [{}]},
          "mark": {"type": "rect", "fill": "white", "stroke": "black", "strokeWidth": 2},
          "encoding": {"x": {"datum": 108.6, "axis": null}, "x2": {"datum": 805}, "y": {"datum": -78.2, "axis": null}, "y2": {"datum": -97.7}}
        },
        {
          "data": {"values": [{}]},
          "mark": {"type": "text", "text": "Re", "font": "DejaVu Serif", "fontSize": 35, "align": "right", "baseline": "alphabetic", "dx": -39, "dy": 10},
          "encoding": {"x": {"datum": 295.7, "axis": null}, "y": {"datum": -87.95, "axis": null}}
        },
        {
          "data": {"values": [{}]},
          "mark": {"type": "text", "text": "τ", "font": "DejaVu Serif", "fontStyle": "italic", "fontSize": 25, "align": "left", "baseline": "alphabetic", "dx": -39, "dy": 16},
          "encoding": {"x": {"datum": 295.7, "axis": null}, "y": {"datum": -87.95, "axis": null}}
        },
        {
          "data": {"values": [{}]},
          "mark": {"type": "text", "text": "= 873", "font": "DejaVu Serif", "fontSize": 35, "align": "left", "baseline": "alphabetic", "dx": -10, "dy": 10},
          "encoding": {"x": {"datum": 295.7, "axis": null}, "y": {"datum": -87.95, "axis": null}}
        },
        {
          "data": {"values": [{}]},
          "mark": {"type": "text", "text": "(b)", "font": "Liberation Serif", "fontSize": 34, "align": "right", "baseline": "middle", "dx": -58, "dy": 7},
          "encoding": {"x": {"datum": 20, "axis": null}, "y": {"datum": -20, "axis": null}}
        }
      ],
      "resolve": {"axis": {"x": "independent", "y": "independent"}}
    },
    {
      "width": 754, "height": 447,
      "layer": [
        {
          "data": {"name": "c"},
          "mark": {"type": "line", "strokeWidth": 3, "interpolate": "monotone", "clip": true},
          "encoding": {
            "x": {"field": "f", "type": "quantitative", "title": "Frequency (Hz)", "scale": {"type": "log", "domain": [20, 5000], "nice": false},
              "axis": {"orient": "bottom", "values": [20, 30, 40, 50, 60, 70, 80, 90, 100, 200, 300, 400, 500, 600, 700, 800, 900, 1000, 2000, 3000, 4000, 5000], "labelExpr": "datum.value == 100 ? '10²' : datum.value == 1000 ? '10³' : ''", "tickSize": -6, "labelPadding": 29, "titlePadding": 8, "titleX": 349}},
            "y": {"field": "psd", "type": "quantitative", "title": "PSD (dB)", "scale": {"domain": [-80, -20], "nice": false},
              "axis": {"orient": "left", "values": [-80, -70, -60, -50, -40, -30, -20], "labelExpr": "'' + datum.value", "tickSize": -7, "labelPadding": 16, "titlePadding": 6}},
            "color": {"field": "probe", "type": "nominal", "scale": {"domain": ["P1", "P3"], "range": ["#1c28c8", "#de2828"]},
              "legend": {"title": null, "orient": "top-right", "offset": 0, "fillColor": "white", "strokeColor": "black", "padding": 4, "symbolType": "stroke", "symbolSize": 1764, "symbolStrokeWidth": 3, "clipHeight": 34, "rowPadding": 0, "labelOffset": 3, "labelFont": "DejaVu Sans Condensed, Liberation Sans", "labelFontSize": 25, "labelFontWeight": "bold", "labelColor": "black", "labelExpr": "datum.label + '\u2800\u2800'"}}
          }
        },
        {
          "data": {"name": "c"},
          "mark": {"type": "line", "opacity": 0},
          "encoding": {
            "x": {"field": "f", "type": "quantitative", "scale": {"type": "log", "domain": [20, 5000], "nice": false},
              "axis": {"orient": "top", "values": [20, 30, 40, 50, 60, 70, 80, 90, 100, 200, 300, 400, 500, 600, 700, 800, 900, 1000, 2000, 3000, 4000, 5000], "labels": false, "tickSize": -6, "title": null}},
            "y": {"field": "psd", "type": "quantitative", "scale": {"domain": [-80, -20], "nice": false},
              "axis": {"orient": "right", "values": [-80, -70, -60, -50, -40, -30, -20], "labels": false, "tickSize": -7, "title": null}}
          }
        },
        {
          "data": {"values": [{}]},
          "mark": {"type": "rect", "fill": "white", "stroke": "black", "strokeWidth": 2},
          "encoding": {"x": {"datum": 101.8, "axis": null}, "x2": {"datum": 731}, "y": {"datum": -56.4, "axis": null}, "y2": {"datum": -67.8}}
        },
        {
          "data": {"values": [{}]},
          "mark": {"type": "text", "text": "Re", "font": "DejaVu Serif", "fontSize": 35, "align": "right", "baseline": "alphabetic", "dx": -51, "dy": 10},
          "encoding": {"x": {"datum": 272.8, "axis": null}, "y": {"datum": -62.1, "axis": null}}
        },
        {
          "data": {"values": [{}]},
          "mark": {"type": "text", "text": "τ", "font": "DejaVu Serif", "fontStyle": "italic", "fontSize": 25, "align": "left", "baseline": "alphabetic", "dx": -51, "dy": 16},
          "encoding": {"x": {"datum": 272.8, "axis": null}, "y": {"datum": -62.1, "axis": null}}
        },
        {
          "data": {"values": [{}]},
          "mark": {"type": "text", "text": "= 1140", "font": "DejaVu Serif", "fontSize": 35, "align": "left", "baseline": "alphabetic", "dx": -23, "dy": 10},
          "encoding": {"x": {"datum": 272.8, "axis": null}, "y": {"datum": -62.1, "axis": null}}
        },
        {
          "data": {"values": [{}]},
          "mark": {"type": "text", "text": "(c)", "font": "Liberation Serif", "fontSize": 34, "align": "right", "baseline": "middle", "dx": -52, "dy": 10},
          "encoding": {"x": {"datum": 20, "axis": null}, "y": {"datum": -20, "axis": null}}
        }
      ],
      "resolve": {"axis": {"x": "independent", "y": "independent"}}
    },
    {
      "width": 754, "height": 447,
      "layer": [
        {
          "data": {"name": "d"},
          "mark": {"type": "line", "strokeWidth": 3, "interpolate": "monotone", "clip": true},
          "encoding": {
            "x": {"field": "f", "type": "quantitative", "title": "Frequency (Hz)", "scale": {"type": "log", "domain": [20, 5000], "nice": false},
              "axis": {"orient": "bottom", "values": [20, 30, 40, 50, 60, 70, 80, 90, 100, 200, 300, 400, 500, 600, 700, 800, 900, 1000, 2000, 3000, 4000, 5000], "labelExpr": "datum.value == 100 ? '10²' : datum.value == 1000 ? '10³' : ''", "tickSize": -6, "labelPadding": 29, "titlePadding": 12, "titleX": 351}},
            "y": {"field": "psd", "type": "quantitative", "title": "PSD (dB)", "scale": {"domain": [-80, -20], "nice": false},
              "axis": {"orient": "left", "values": [-80, -70, -60, -50, -40, -30, -20], "labelExpr": "'' + datum.value", "tickSize": -7, "labelPadding": 16, "titlePadding": 6}},
            "color": {"field": "probe", "type": "nominal", "scale": {"domain": ["P1", "P3"], "range": ["#1c28c8", "#de2828"]},
              "legend": {"title": null, "orient": "top-right", "offset": 0, "fillColor": "white", "strokeColor": "black", "padding": 4, "symbolType": "stroke", "symbolSize": 1764, "symbolStrokeWidth": 3, "clipHeight": 34, "rowPadding": 0, "labelOffset": 3, "labelFont": "DejaVu Sans Condensed, Liberation Sans", "labelFontSize": 25, "labelFontWeight": "bold", "labelColor": "black", "labelExpr": "datum.label + '\u2800\u2800'"}}
          }
        },
        {
          "data": {"name": "d"},
          "mark": {"type": "line", "opacity": 0},
          "encoding": {
            "x": {"field": "f", "type": "quantitative", "scale": {"type": "log", "domain": [20, 5000], "nice": false},
              "axis": {"orient": "top", "values": [20, 30, 40, 50, 60, 70, 80, 90, 100, 200, 300, 400, 500, 600, 700, 800, 900, 1000, 2000, 3000, 4000, 5000], "labels": false, "tickSize": -6, "title": null}},
            "y": {"field": "psd", "type": "quantitative", "scale": {"domain": [-80, -20], "nice": false},
              "axis": {"orient": "right", "values": [-80, -70, -60, -50, -40, -30, -20], "labels": false, "tickSize": -7, "title": null}}
          }
        },
        {
          "data": {"values": [{}]},
          "mark": {"type": "rect", "fill": "white", "stroke": "black", "strokeWidth": 2},
          "encoding": {"x": {"datum": 69, "axis": null}, "x2": {"datum": 500}, "y": {"datum": -55.7, "axis": null}, "y2": {"datum": -67.0}}
        },
        {
          "data": {"values": [{}]},
          "mark": {"type": "text", "text": "Re", "font": "DejaVu Serif", "fontSize": 35, "align": "right", "baseline": "alphabetic", "dx": -52, "dy": 10},
          "encoding": {"x": {"datum": 185.7, "axis": null}, "y": {"datum": -61.35, "axis": null}}
        },
        {
          "data": {"values": [{}]},
          "mark": {"type": "text", "text": "τ", "font": "DejaVu Serif", "fontStyle": "italic", "fontSize": 25, "align": "left", "baseline": "alphabetic", "dx": -52, "dy": 16},
          "encoding": {"x": {"datum": 185.7, "axis": null}, "y": {"datum": -61.35, "axis": null}}
        },
        {
          "data": {"values": [{}]},
          "mark": {"type": "text", "text": "= 1140", "font": "DejaVu Serif", "fontSize": 35, "align": "left", "baseline": "alphabetic", "dx": -25, "dy": 10},
          "encoding": {"x": {"datum": 185.7, "axis": null}, "y": {"datum": -61.35, "axis": null}}
        },
        {
          "data": {"values": [{}]},
          "mark": {"type": "text", "text": "(d)", "font": "Liberation Serif", "fontSize": 34, "align": "right", "baseline": "middle", "dx": -58, "dy": 8},
          "encoding": {"x": {"datum": 20, "axis": null}, "y": {"datum": -20, "axis": null}}
        }
      ],
      "resolve": {"axis": {"x": "independent", "y": "independent"}}
    },
    {
      "width": 754, "height": 447,
      "layer": [
        {
          "data": {"name": "e"},
          "mark": {"type": "line", "strokeWidth": 3, "interpolate": "monotone", "clip": true},
          "encoding": {
            "x": {"field": "f", "type": "quantitative", "title": "Frequency (Hz)", "scale": {"type": "log", "domain": [20, 5000], "nice": false},
              "axis": {"orient": "bottom", "values": [20, 30, 40, 50, 60, 70, 80, 90, 100, 200, 300, 400, 500, 600, 700, 800, 900, 1000, 2000, 3000, 4000, 5000], "labelExpr": "datum.value == 100 ? '10²' : datum.value == 1000 ? '10³' : ''", "tickSize": -6, "labelPadding": 29, "titlePadding": 8, "titleX": 349}},
            "y": {"field": "psd", "type": "quantitative", "title": "PSD (dB)", "scale": {"domain": [-80, -20], "nice": false},
              "axis": {"orient": "left", "values": [-80, -70, -60, -50, -40, -30, -20], "labelExpr": "'' + datum.value", "tickSize": -7, "labelPadding": 16, "titlePadding": 6}},
            "color": {"field": "probe", "type": "nominal", "scale": {"domain": ["P1", "P3"], "range": ["#1c28c8", "#de2828"]},
              "legend": {"title": null, "orient": "top-right", "offset": 0, "fillColor": "white", "strokeColor": "black", "padding": 4, "symbolType": "stroke", "symbolSize": 1764, "symbolStrokeWidth": 3, "clipHeight": 34, "rowPadding": 0, "labelOffset": 3, "labelFont": "DejaVu Sans Condensed, Liberation Sans", "labelFontSize": 25, "labelFontWeight": "bold", "labelColor": "black", "labelExpr": "datum.label + '\u2800\u2800'"}}
          }
        },
        {
          "data": {"name": "e"},
          "mark": {"type": "line", "opacity": 0},
          "encoding": {
            "x": {"field": "f", "type": "quantitative", "scale": {"type": "log", "domain": [20, 5000], "nice": false},
              "axis": {"orient": "top", "values": [20, 30, 40, 50, 60, 70, 80, 90, 100, 200, 300, 400, 500, 600, 700, 800, 900, 1000, 2000, 3000, 4000, 5000], "labels": false, "tickSize": -6, "title": null}},
            "y": {"field": "psd", "type": "quantitative", "scale": {"domain": [-80, -20], "nice": false},
              "axis": {"orient": "right", "values": [-80, -70, -60, -50, -40, -30, -20], "labels": false, "tickSize": -7, "title": null}}
          }
        },
        {
          "data": {"values": [{}]},
          "mark": {"type": "rect", "fill": "white", "stroke": "black", "strokeWidth": 2},
          "encoding": {"x": {"datum": 132, "axis": null}, "x2": {"datum": 938}, "y": {"datum": -58.0, "axis": null}, "y2": {"datum": -69.3}}
        },
        {
          "data": {"values": [{}]},
          "mark": {"type": "text", "text": "Re", "font": "DejaVu Serif", "fontSize": 35, "align": "right", "baseline": "alphabetic", "dx": -51, "dy": 10},
          "encoding": {"x": {"datum": 351.9, "axis": null}, "y": {"datum": -63.65, "axis": null}}
        },
        {
          "data": {"values": [{}]},
          "mark": {"type": "text", "text": "τ", "font": "DejaVu Serif", "fontStyle": "italic", "fontSize": 25, "align": "left", "baseline": "alphabetic", "dx": -51, "dy": 16},
          "encoding": {"x": {"datum": 351.9, "axis": null}, "y": {"datum": -63.65, "axis": null}}
        },
        {
          "data": {"values": [{}]},
          "mark": {"type": "text", "text": "= 1568", "font": "DejaVu Serif", "fontSize": 35, "align": "left", "baseline": "alphabetic", "dx": -23, "dy": 10},
          "encoding": {"x": {"datum": 351.9, "axis": null}, "y": {"datum": -63.65, "axis": null}}
        },
        {
          "data": {"values": [{}]},
          "mark": {"type": "text", "text": "(e)", "font": "Liberation Serif", "fontSize": 34, "align": "right", "baseline": "middle", "dx": -52, "dy": 8},
          "encoding": {"x": {"datum": 20, "axis": null}, "y": {"datum": -20, "axis": null}}
        }
      ],
      "resolve": {"axis": {"x": "independent", "y": "independent"}}
    },
    {
      "width": 754, "height": 447,
      "layer": [
        {
          "data": {"name": "f"},
          "mark": {"type": "line", "strokeWidth": 3, "interpolate": "monotone", "clip": true},
          "encoding": {
            "x": {"field": "f", "type": "quantitative", "title": "Frequency (Hz)", "scale": {"type": "log", "domain": [20, 5000], "nice": false},
              "axis": {"orient": "bottom", "values": [20, 30, 40, 50, 60, 70, 80, 90, 100, 200, 300, 400, 500, 600, 700, 800, 900, 1000, 2000, 3000, 4000, 5000], "labelExpr": "datum.value == 100 ? '10²' : datum.value == 1000 ? '10³' : ''", "tickSize": -6, "labelPadding": 29, "titlePadding": 8, "titleX": 351}},
            "y": {"field": "psd", "type": "quantitative", "title": "PSD (dB)", "scale": {"domain": [-80, -20], "nice": false},
              "axis": {"orient": "left", "values": [-80, -70, -60, -50, -40, -30, -20], "labelExpr": "'' + datum.value", "tickSize": -7, "labelPadding": 16, "titlePadding": 6}},
            "color": {"field": "probe", "type": "nominal", "scale": {"domain": ["P1", "P3"], "range": ["#1c28c8", "#de2828"]},
              "legend": {"title": null, "orient": "top-right", "offset": 0, "fillColor": "white", "strokeColor": "black", "padding": 4, "symbolType": "stroke", "symbolSize": 1764, "symbolStrokeWidth": 3, "clipHeight": 34, "rowPadding": 0, "labelOffset": 3, "labelFont": "DejaVu Sans Condensed, Liberation Sans", "labelFontSize": 25, "labelFontWeight": "bold", "labelColor": "black", "labelExpr": "datum.label + '\u2800\u2800'"}}
          }
        },
        {
          "data": {"name": "f"},
          "mark": {"type": "line", "opacity": 0},
          "encoding": {
            "x": {"field": "f", "type": "quantitative", "scale": {"type": "log", "domain": [20, 5000], "nice": false},
              "axis": {"orient": "top", "values": [20, 30, 40, 50, 60, 70, 80, 90, 100, 200, 300, 400, 500, 600, 700, 800, 900, 1000, 2000, 3000, 4000, 5000], "labels": false, "tickSize": -6, "title": null}},
            "y": {"field": "psd", "type": "quantitative", "scale": {"domain": [-80, -20], "nice": false},
              "axis": {"orient": "right", "values": [-80, -70, -60, -50, -40, -30, -20], "labels": false, "tickSize": -7, "title": null}}
          }
        },
        {
          "data": {"values": [{}]},
          "mark": {"type": "rect", "fill": "white", "stroke": "black", "strokeWidth": 2},
          "encoding": {"x": {"datum": 96.5, "axis": null}, "x2": {"datum": 690}, "y": {"datum": -58.8, "axis": null}, "y2": {"datum": -70.3}}
        },
        {
          "data": {"values": [{}]},
          "mark": {"type": "text", "text": "Re", "font": "DejaVu Serif", "fontSize": 35, "align": "right", "baseline": "alphabetic", "dx": -52, "dy": 10},
          "encoding": {"x": {"datum": 258, "axis": null}, "y": {"datum": -64.55, "axis": null}}
        },
        {
          "data": {"values": [{}]},
          "mark": {"type": "text", "text": "τ", "font": "DejaVu Serif", "fontStyle": "italic", "fontSize": 25, "align": "left", "baseline": "alphabetic", "dx": -52, "dy": 16},
          "encoding": {"x": {"datum": 258, "axis": null}, "y": {"datum": -64.55, "axis": null}}
        },
        {
          "data": {"values": [{}]},
          "mark": {"type": "text", "text": "= 1568", "font": "DejaVu Serif", "fontSize": 35, "align": "left", "baseline": "alphabetic", "dx": -26, "dy": 10},
          "encoding": {"x": {"datum": 258, "axis": null}, "y": {"datum": -64.55, "axis": null}}
        },
        {
          "data": {"values": [{}]},
          "mark": {"type": "text", "text": "(f)", "font": "Liberation Serif", "fontSize": 34, "align": "right", "baseline": "middle", "dx": -58, "dy": 8},
          "encoding": {"x": {"datum": 20, "axis": null}, "y": {"datum": -20, "axis": null}}
        }
      ],
      "resolve": {"axis": {"x": "independent", "y": "independent"}}
    }
  ],
  "resolve": {"scale": {"color": "independent"}},
  "config": {
    "view": {"stroke": "black", "strokeWidth": 2.5},
    "legend": {"strokeWidth": 2},
    "axis": {
      "grid": false, "domainColor": "black", "domainWidth": 2.5, "tickColor": "black", "tickWidth": 2,
      "labelFont": "DejaVu Sans Condensed, Liberation Sans", "labelFontSize": 25, "labelColor": "black",
      "labelFlush": false, "labelOverlap": false, "titleColor": "black"
    },
    "axisX": {"titleFont": "DejaVu Sans Condensed, Liberation Sans", "titleFontSize": 30, "titleFontWeight": "bold"},
    "axisY": {"titleFont": "Liberation Sans", "titleFontSize": 35, "titleFontWeight": "bold"}
  }
}
